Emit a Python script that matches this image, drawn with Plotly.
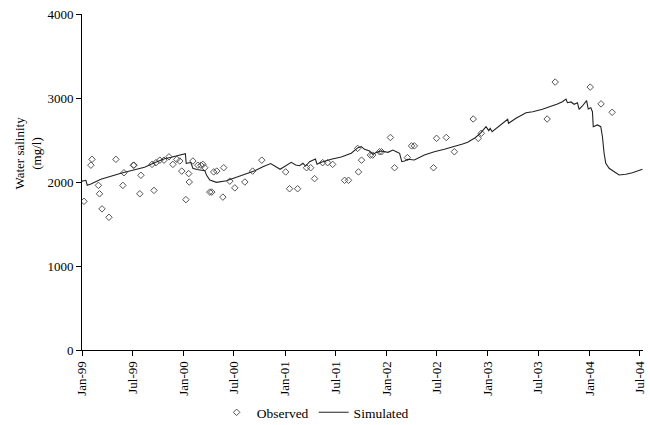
import plotly.graph_objects as go

# Observed samples
obs_dates = [
    "1999-01-08", "1999-02-06", "1999-02-02", "1999-03-01", "1999-03-05", "1999-03-14",
    "1999-04-08", "1999-05-03", "1999-06-01", "1999-05-28", "1999-07-05", "1999-07-07",
    "1999-08-01", "1999-07-28", "1999-09-10", "1999-09-17", "1999-09-24", "1999-10-08",
    "1999-10-23", "1999-11-10", "1999-11-24", "1999-12-08", "1999-12-19", "1999-12-26",
    "2000-01-10", "2000-01-20", "2000-01-22", "2000-02-04", "2000-02-22", "2000-03-04",
    "2000-03-11", "2000-03-18", "2000-04-05", "2000-04-12", "2000-04-19", "2000-04-30",
    "2000-05-22", "2000-05-25", "2000-06-16", "2000-07-04", "2000-08-09", "2000-09-06",
    "2000-10-09", "2001-01-03", "2001-01-17", "2001-02-15", "2001-03-19", "2001-04-03",
    "2001-04-17", "2001-05-16", "2001-06-03", "2001-06-21", "2001-08-03", "2001-08-17",
    "2001-09-22", "2001-10-03", "2001-09-19", "2001-11-04", "2001-11-12", "2001-12-07",
    "2001-12-14", "2002-01-15", "2002-01-30", "2002-03-17", "2002-04-01", "2002-04-11",
    "2002-06-19", "2002-06-30", "2002-08-04", "2002-09-02", "2002-11-09", "2002-11-27",
    "2002-12-08", "2003-08-02", "2003-08-31", "2004-01-04", "2004-02-12", "2004-03-23",
]
obs_values = [
    1770, 2270, 2200, 1960, 1860, 1680,
    1580, 2270, 2110, 1960, 2200, 2200,
    2080, 1860, 2210, 1900, 2230, 2260,
    2260, 2300, 2210, 2270, 2250, 2130,
    1790, 2100, 2000, 2250, 2200, 2200,
    2210, 2170, 1880, 1880, 2120, 2130,
    1820, 2170, 2010, 1930, 2000, 2130,
    2260, 2120, 1920, 1920, 2170, 2170,
    2040, 2230, 2230, 2210, 2020, 2020,
    2120, 2260, 2400, 2320, 2320, 2360,
    2360, 2530, 2170, 2290, 2430, 2430,
    2170, 2520, 2530, 2360, 2750, 2520,
    2580, 2750, 3190, 3130, 2930, 2830,
]

# Simulated series
sim_dates = [
    "1999-01-01", "1999-01-15", "1999-01-20", "1999-02-02", "1999-03-10", "1999-04-15",
    "1999-05-18", "1999-06-04", "1999-07-09", "1999-08-14", "1999-09-19", "1999-10-25",
    "1999-11-18", "1999-12-12", "2000-01-05", "2000-01-08", "2000-01-11", "2000-01-28",
    "2000-02-04", "2000-02-18", "2000-03-18", "2000-03-24", "2000-04-05", "2000-04-29",
    "2000-06-04", "2000-07-10", "2000-08-15", "2000-09-14", "2000-10-13", "2000-11-10",
    "2000-12-14", "2001-01-05", "2001-01-23", "2001-02-08", "2001-02-22", "2001-03-06",
    "2001-03-16", "2001-03-30", "2001-04-20", "2001-04-26", "2001-05-11", "2001-06-16",
    "2001-07-22", "2001-08-27", "2001-09-20", "2001-10-02", "2001-10-14", "2001-11-01",
    "2001-11-13", "2001-11-26", "2001-12-13", "2002-01-06", "2002-01-24", "2002-02-05",
    "2002-02-17", "2002-02-25", "2002-03-07", "2002-03-18", "2002-03-31", "2002-04-11",
    "2002-05-17", "2002-06-22", "2002-07-28", "2002-09-02", "2002-10-02", "2002-10-20",
    "2002-11-13", "2002-12-07", "2002-12-19", "2002-12-25", "2003-01-04", "2003-01-09",
    "2003-01-16", "2003-02-11", "2003-03-13", "2003-03-16", "2003-04-12", "2003-05-18",
    "2003-06-11", "2003-07-16", "2003-08-16", "2003-09-08", "2003-09-26", "2003-10-09",
    "2003-10-14", "2003-10-27", "2003-11-07", "2003-11-19", "2003-11-25", "2003-12-07",
    "2003-12-22", "2003-12-28", "2004-01-06", "2004-01-12", "2004-01-15", "2004-01-30",
    "2004-02-11", "2004-02-17", "2004-02-23", "2004-02-29", "2004-03-12", "2004-03-30",
    "2004-04-17", "2004-05-11", "2004-06-04", "2004-07-10",
]
sim_values = [
    2010, 2020, 1960, 1975, 2032, 2071,
    2101, 2115, 2143, 2175, 2230, 2277,
    2294, 2313, 2333, 2337, 2223, 2232,
    2163, 2149, 2135, 2083, 2024, 1996,
    2015, 2056, 2092, 2135, 2182, 2220,
    2151, 2196, 2234, 2202, 2194, 2223,
    2190, 2242, 2274, 2211, 2234, 2270,
    2298, 2342, 2409, 2421, 2389, 2369,
    2330, 2353, 2369, 2353, 2381, 2361,
    2341, 2242, 2250, 2270, 2262, 2262,
    2321, 2361, 2389, 2420, 2452, 2473,
    2520, 2587, 2639, 2659, 2611, 2639,
    2599, 2667, 2746, 2699, 2758, 2825,
    2837, 2865, 2897, 2929, 2956, 2988,
    2944, 2953, 2925, 2944, 2865, 2905,
    2968, 2869, 2885, 2837, 2659, 2679,
    2659, 2539, 2342, 2223, 2163, 2123,
    2083, 2092, 2111, 2151,
]

y_ticks = [0, 1000, 2000, 3000, 4000]

FONT = "Liberation Serif"

fig = go.Figure()
fig.add_trace(go.Scatter(
    x=obs_dates, y=obs_values, mode="markers", name="Observed",
    marker=dict(symbol="diamond-open", size=5, color="#555555", line=dict(width=1)),
))
fig.add_trace(go.Scatter(
    x=sim_dates, y=sim_values, mode="lines", name="Simulated",
    line=dict(color="#222222", width=1.1),
))

fig.update_layout(
    width=650, height=425,
    margin=dict(l=82, r=7, t=14, b=75, autoexpand=False),
    paper_bgcolor="white", plot_bgcolor="white",
    font=dict(family=FONT, size=13, color="black"),
    showlegend=True,
    legend=dict(orientation="h", x=0.24, xanchor="left", y=-0.14, yanchor="top",
                font=dict(family=FONT, size=13.5), itemwidth=30, tracegroupgap=0),
    xaxis=dict(
        type="date", range=["1999-01-01", "2004-07-12"],
        tick0="1999-01-01", dtick="M6", tickformat="%b-%y", tickangle=-90,
        ticks="outside", ticklen=5, tickcolor="black",
        showline=True, linecolor="black", linewidth=1,
        showgrid=False, zeroline=False, automargin=False,
        ticklabeloverflow="allow",
        tickfont=dict(family=FONT, size=13, color="black"),
    ),
    yaxis=dict(
        range=[0, 4000], tickvals=y_ticks,
        ticks="outside", ticklen=5, tickcolor="black",
        showline=True, linecolor="black", linewidth=1,
        showgrid=False, zeroline=False, automargin=False,
        ticklabeloverflow="allow",
        tickfont=dict(family=FONT, size=13, color="black"),
    ),
    annotations=[dict(
        text="Water salinity<br>(mg/l)", textangle=-90,
        xref="paper", yref="paper", x=-0.096, y=0.585,
        xanchor="center", yanchor="middle", showarrow=False,
        font=dict(family=FONT, size=13, color="black"),
    )],
)

fig.write_html(
    "out.html",
    config={"displayModeBar": False},
    post_script="document.body.style.margin='0';document.body.style.overflow='hidden';",
)
